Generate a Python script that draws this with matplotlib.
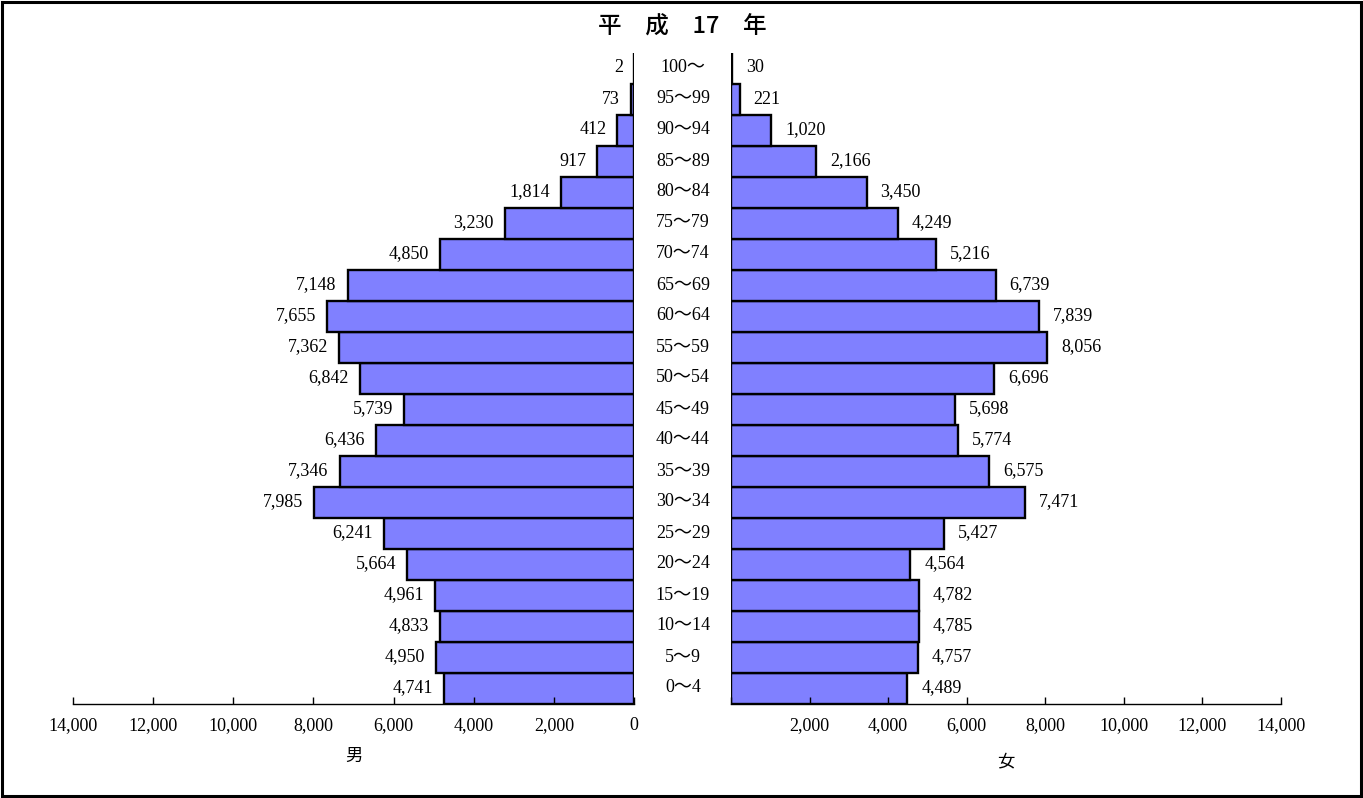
import numpy as np
import matplotlib.pyplot as plt
from matplotlib.patches import Rectangle

ages = ['0～4', '5～9', '10～14', '15～19', '20～24', '25～29', '30～34',
        '35～39', '40～44', '45～49', '50～54', '55～59', '60～64', '65～69',
        '70～74', '75～79', '80～84', '85～89', '90～94', '95～99', '100～']
male = [4741, 4950, 4833, 4961, 5664, 6241, 7985, 7346, 6436, 5739, 6842,
        7362, 7655, 7148, 4850, 3230, 1814, 917, 412, 73, 2]
female = [4489, 4757, 4785, 4782, 4564, 5427, 7471, 6575, 5774, 5698, 6696,
          8056, 7839, 6739, 5216, 4249, 3450, 2166, 1020, 221, 30]
ticks = [0, 2000, 4000, 6000, 8000, 10000, 12000, 14000]
title = '平　成　17　年'

serif = ['Liberation Serif', 'Noto Sans CJK JP']
cjk = ['Noto Sans CJK JP', 'DejaVu Sans']
bar_color = '#8080FF'

W, H = 1363, 798
fig = plt.figure(figsize=(W / 100, H / 100), dpi=100)

bottom = (H - 703.5) / H
height = (703.5 - 52.5) / H
ax_m = fig.add_axes([73 / W, bottom, 561 / W, height])
ax_f = fig.add_axes([731 / W, bottom, 550 / W, height])

y = np.arange(len(ages))

for ax, vals, side in [(ax_m, male, 'm'), (ax_f, female, 'f')]:
    ax.barh(y, vals, height=1.0, color=bar_color, edgecolor='black', linewidth=1.7)
    ax.set_xlim(0, 14000)
    ax.set_ylim(-0.5, len(ages) - 0.5)
    for s in ['top', 'left', 'right']:
        ax.spines[s].set_visible(False)
    ax.spines['bottom'].set_linewidth(1.0)
    ax.set_yticks([])
    ax.set_xticks(ticks)
    ax.tick_params(axis='x', direction='in', length=5, width=1, pad=10)
    ax.patch.set_alpha(0)
    for yi, v in zip(y, vals):
        if side == 'm':
            ax.annotate(f'{v:,}', (v, yi), xytext=(-8, 0), textcoords='offset points',
                        ha='right', va='center', fontsize=13, family=serif)
        else:
            ax.annotate(f'{v:,}', (v, yi), xytext=(10, 0), textcoords='offset points',
                        ha='left', va='center', fontsize=13, family=serif)

ax_m.invert_xaxis()
ax_m.set_xticklabels([f'{t:,}' for t in ticks], fontsize=13, family=serif)
ax_f.set_xticklabels([''] + [f'{t:,}' for t in ticks[1:]], fontsize=13, family=serif)
ax_m.set_xlabel('男', fontsize=12.5, family=cjk, labelpad=9)
ax_f.set_xlabel('女', fontsize=12.5, family=cjk, labelpad=13)

# age labels in the middle
for yi, a in zip(y, ages):
    fig.text(683 / W, bottom + (yi + 0.5) / len(ages) * height, a,
             ha='center', va='center', fontsize=13, family=serif)

fig.text(682 / W, 1 - 27 / H, title, ha='center', va='center',
         fontsize=17, fontweight='medium', family=cjk)

fig.patches.append(Rectangle((2 / W, 2 / H), 1 - 4 / W, 1 - 4 / H,
                             transform=fig.transFigure, fill=False,
                             edgecolor='black', linewidth=2.2))

fig.savefig('out.png', dpi=100)
